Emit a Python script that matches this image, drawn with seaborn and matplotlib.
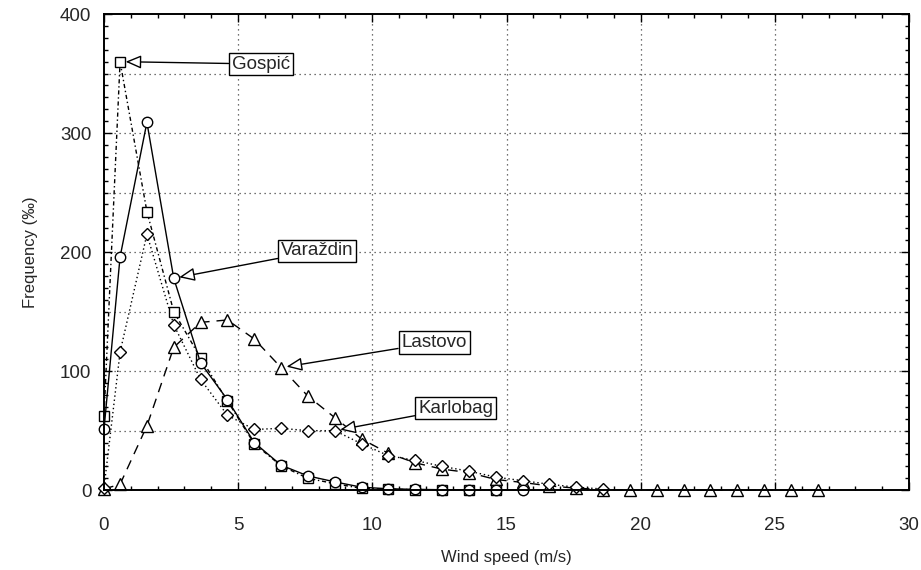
import matplotlib
matplotlib.use("Agg")
import matplotlib.pyplot as plt
import seaborn as sns
import numpy as np
from matplotlib.ticker import MultipleLocator

# ---- data ----
speed = [0, 0.6, 1.6, 2.6, 3.6, 4.6, 5.6, 6.6, 7.6, 8.6, 9.6, 10.6, 11.6, 12.6,
         13.6, 14.6, 15.6, 16.6, 17.6, 18.6, 19.6, 20.6, 21.6, 22.6, 23.6, 24.6,
         25.6, 26.6]

gospic = [62, 360, 234, 150, 111, 75, 39, 20.5, 10, 5.5, 1.5, 0.8, 0.5, 0.3, 0.2, 0.1]
varazdin = [51, 196, 309, 178, 107, 76, 40, 21, 12, 7, 2.5, 1.2, 0.7, 0.4, 0.3, 0.2, 0.1]
karlobag = [2, 116, 215, 139, 93, 63, 51, 52, 50, 50, 39, 29, 25, 20, 16, 11, 8,
            5, 2.5, 1]
lastovo = [1, 5, 54, 120, 141, 143, 127, 103, 79, 61, 43, 31, 23, 17.7, 14.8, 9,
           6.5, 3.6, 1.7, 0.5, 0.3, 0.2, 0.2, 0.1, 0.1, 0.1, 0.1, 0.1]

labels = ["Gospić", "Varaždin", "Lastovo", "Karlobag"]
label_xy = [(0.6, 360), (2.6, 178), (6.6, 103), (8.6, 50)]
label_text_xy = [(5.85, 358), (7.95, 201), (12.3, 124), (13.1, 69)]

x_label = "Wind speed (m/s)"
y_label = "Frequency (‰)"

# ---- style ----
sns.set_style("ticks")
plt.rcParams["font.family"] = ["Liberation Sans", "DejaVu Sans"]

fig = plt.figure(figsize=(9.21, 5.70), dpi=100)
ax = fig.add_axes([0.1129, 0.1400, 0.8741, 0.8354])

common = dict(color="black", markerfacecolor="white", markeredgecolor="black",
              markeredgewidth=1.0, linewidth=1.0, ax=ax, legend=False, clip_on=False)

sns.lineplot(x=speed[:len(lastovo)], y=lastovo, marker="^", markersize=8.5,
             linestyle=(0, (7, 5)), **common)
sns.lineplot(x=speed[:len(karlobag)], y=karlobag, marker="D", markersize=6.5,
             linestyle=(0, (1, 2)), **common)
sns.lineplot(x=speed[:len(gospic)], y=gospic, marker="s", markersize=7.5,
             linestyle=(0, (3, 2, 1, 2)), **common)
sns.lineplot(x=speed[:len(varazdin)], y=varazdin, marker="o", markersize=7.5,
             linestyle="-", **common)

# grid
for v in [5, 10, 15, 20, 25]:
    ax.axvline(v, color="#444444", linestyle=(0, (1, 3)), linewidth=0.9, zorder=0)
for v in [50, 100, 150, 200, 250, 300, 350]:
    ax.axhline(v, color="#444444", linestyle=(0, (1, 3)), linewidth=0.9, zorder=0)

ax.set_xlim(0, 30)
ax.set_ylim(0, 400)
ax.xaxis.set_major_locator(MultipleLocator(5))
ax.xaxis.set_minor_locator(MultipleLocator(1))
ax.yaxis.set_major_locator(MultipleLocator(100))
ax.yaxis.set_minor_locator(MultipleLocator(10))
ax.tick_params(which="both", direction="in", top=True, right=True, color="black")
ax.tick_params(which="major", length=6, width=1.0)
ax.tick_params(which="minor", length=3, width=1.0)
ax.tick_params(axis="x", which="major", pad=19, labelsize=13.5)
ax.tick_params(axis="y", which="major", pad=9, labelsize=13.5)
for s in ax.spines.values():
    s.set_visible(True)
    s.set_linewidth(1.4)
    s.set_color("black")

ax.set_xlabel(x_label, fontsize=12, labelpad=12)
ax.set_ylabel(y_label, fontsize=12, labelpad=16)

for lab, xy, xyt in zip(labels, label_xy, label_text_xy):
    ax.annotate(lab, xy=xy, xytext=xyt, ha="center", va="center", fontsize=13.5,
                bbox=dict(boxstyle="square,pad=0.15", fc="white", ec="black", lw=1.0),
                arrowprops=dict(arrowstyle="-|>,head_length=0.7,head_width=0.3",
                                fc="white", ec="black", lw=1.0,
                                shrinkA=0, shrinkB=4),
                zorder=5)

fig.savefig("out.png", dpi=100)
